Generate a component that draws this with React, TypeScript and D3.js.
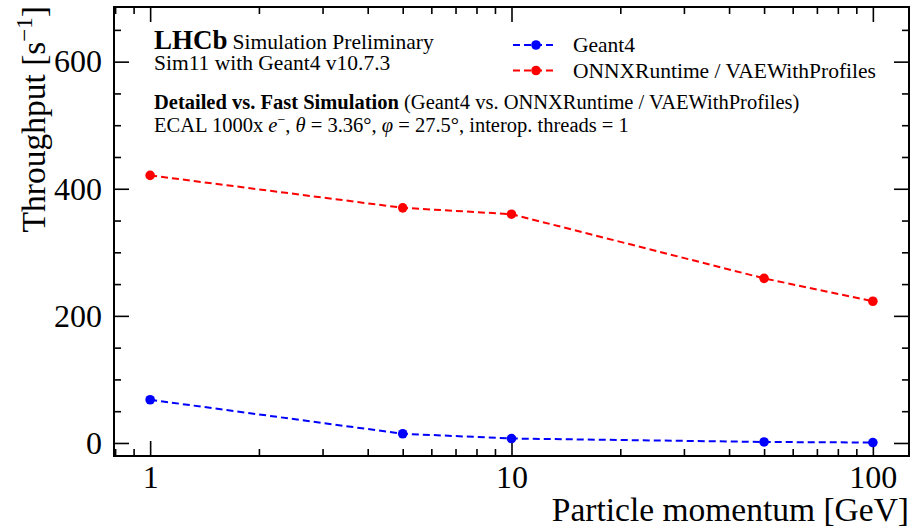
import React, { useEffect, useRef } from 'react';
import * as d3 from 'd3';

// particle momentum in GeV (log axis)
const momentum = [1, 5, 10, 50, 100];
// throughput [1/s]
const geant4 = [68, 14.5, 7, 1.6, 0.7];
const onnx = [421, 370, 360, 259, 223];
const xTicks = [1, 10, 100];
const yTicks = [0, 200, 400, 600];
const seriesNames = ['Geant4', 'ONNXRuntime / VAEWithProfiles'];
const seriesColors = ['#0000ff', '#ff0000'];

const FONT = 'Liberation Serif, Times New Roman, serif';

function Chart() {
  const ref = useRef<SVGSVGElement>(null);

  useEffect(() => {
    document.body.style.margin = '0';
    const width = 920;
    const height = 529;
    const margin = { top: 7, right: 11, bottom: 73, left: 114 };

    const svg = d3.select(ref.current);
    svg.selectAll('*').remove();
    svg.attr('width', width).attr('height', height);
    const root = svg.append('g').attr('font-family', FONT).attr('fill', '#000');

    const x = d3.scaleLog()
      .domain([Math.pow(10, -0.1), Math.pow(10, 2.1)])
      .range([margin.left, width - margin.right]);

    const y = d3.scaleLinear()
      .domain([-20.5, 686])
      .range([height - margin.bottom, margin.top]);

    const [x0, x1] = x.range();
    const [y0, y1] = y.range();

    // minor ticks
    const xMinor: number[] = [];
    for (let e = -1; e <= 2; e++) {
      for (let m = 1; m <= 9; m++) {
        const v = m * Math.pow(10, e);
        if (v >= x.domain()[0] && v <= x.domain()[1] && !xTicks.includes(v)) xMinor.push(v);
      }
    }
    const yMinor = d3.range(0, 700, 50).filter(v => v % 200 !== 0 && v <= 686);

    const styleAxis = (g: any) => {
      g.attr('font-family', FONT);
      g.select('.domain').remove();
      g.selectAll('.tick line').attr('stroke', '#000').attr('stroke-width', 1.6);
      g.selectAll('.tick text').attr('font-size', 32).attr('font-family', FONT).attr('fill', '#000');
    };

    // bottom
    root.append('g')
      .attr('transform', `translate(0,${y0})`)
      .call(d3.axisBottom(x).tickValues(xTicks).tickFormat(d3.format('d') as any).tickSize(-15).tickPadding(9))
      .call(styleAxis);
    root.append('g')
      .attr('transform', `translate(0,${y0})`)
      .call(d3.axisBottom(x).tickValues(xMinor).tickFormat(() => '').tickSize(-7))
      .call(styleAxis);
    // top
    root.append('g')
      .attr('transform', `translate(0,${y1})`)
      .call(d3.axisTop(x).tickValues(xTicks).tickFormat(() => '').tickSize(-15))
      .call(styleAxis);
    root.append('g')
      .attr('transform', `translate(0,${y1})`)
      .call(d3.axisTop(x).tickValues(xMinor).tickFormat(() => '').tickSize(-7))
      .call(styleAxis);
    // left
    root.append('g')
      .attr('transform', `translate(${x0},0)`)
      .call(d3.axisLeft(y).tickValues(yTicks).tickSize(-15).tickPadding(12))
      .call(styleAxis);
    root.append('g')
      .attr('transform', `translate(${x0},0)`)
      .call(d3.axisLeft(y).tickValues(yMinor).tickFormat(() => '').tickSize(-7))
      .call(styleAxis);
    // right
    root.append('g')
      .attr('transform', `translate(${x1},0)`)
      .call(d3.axisRight(y).tickValues(yTicks).tickFormat(() => '').tickSize(-15))
      .call(styleAxis);
    root.append('g')
      .attr('transform', `translate(${x1},0)`)
      .call(d3.axisRight(y).tickValues(yMinor).tickFormat(() => '').tickSize(-7))
      .call(styleAxis);

    root.append('rect')
      .attr('x', x0).attr('y', y1)
      .attr('width', x1 - x0).attr('height', y0 - y1)
      .attr('fill', 'none').attr('stroke', '#000').attr('stroke-width', 2);

    // series
    const line = d3.line<[number, number]>()
      .x(d => x(d[0]))
      .y(d => y(d[1]));

    [geant4, onnx].forEach((vals, i) => {
      const pts = momentum.map((m, j) => [m, vals[j]] as [number, number]);
      root.append('path')
        .datum(pts)
        .attr('fill', 'none')
        .attr('stroke', seriesColors[i])
        .attr('stroke-width', 2)
        .attr('stroke-dasharray', '7,4')
        .attr('d', line);
      root.append('g').selectAll('circle')
        .data(pts)
        .enter()
        .append('circle')
        .attr('cx', d => x(d[0]))
        .attr('cy', d => y(d[1]))
        .attr('r', 4.8)
        .attr('fill', seriesColors[i]);
    });

    // legend
    const leg = root.append('g');
    seriesNames.forEach((name, i) => {
      const ly = 45 + i * 25.5;
      leg.append('line')
        .attr('x1', 513).attr('x2', 557).attr('y1', ly).attr('y2', ly)
        .attr('stroke', seriesColors[i]).attr('stroke-width', 2)
        .attr('stroke-dasharray', '7,4');
      leg.append('circle').attr('cx', 536).attr('cy', ly).attr('r', 4.8).attr('fill', seriesColors[i]);
      leg.append('text')
        .attr('x', 573).attr('y', ly + 7)
        .attr('font-family', FONT)
        .attr('font-size', 21.5)
        .text(name);
    });

    // annotations
    const t1 = root.append('text').attr('x', 154).attr('y', 49).attr('font-family', FONT);
    t1.append('tspan').attr('font-weight', 'bold').attr('font-size', 27).text('LHCb');
    t1.append('tspan').attr('font-size', 21.5).attr('dx', 5).text('Simulation Preliminary');

    root.append('text').attr('x', 154).attr('y', 70).attr('font-size', 21.5).attr('font-family', FONT)
      .text('Sim11 with Geant4 v10.7.3');

    const t3 = root.append('text').attr('x', 154).attr('y', 109).attr('font-size', 20.5).attr('font-family', FONT);
    t3.append('tspan').attr('font-weight', 'bold').text('Detailed vs. Fast Simulation');
    t3.append('tspan').text(' (Geant4 vs. ONNXRuntime / VAEWithProfiles)');

    const t4 = root.append('text').attr('x', 154).attr('y', 132).attr('font-size', 20.5).attr('font-family', FONT);
    t4.append('tspan').text('ECAL 1000x ');
    t4.append('tspan').attr('font-style', 'italic').text('e');
    t4.append('tspan').attr('font-size', 14).attr('dy', -8).text('\u2212');
    t4.append('tspan').attr('dy', 8).text(', ');
    t4.append('tspan').attr('font-style', 'italic').text('\u03b8');
    t4.append('tspan').text(' = 3.36\u00b0, ');
    t4.append('tspan').attr('font-style', 'italic').text('\u03c6');
    t4.append('tspan').text(' = 27.5\u00b0, interop. threads = 1');

    // axis labels
    root.append('text')
      .attr('x', x1).attr('y', 521)
      .attr('text-anchor', 'end')
      .attr('font-family', FONT)
      .attr('font-size', 33.5)
      .text('Particle momentum [GeV]');

    const yl = root.append('text')
      .attr('transform', `translate(45,${y1 - 1}) rotate(-90)`)
      .attr('text-anchor', 'end')
      .attr('font-family', FONT)
      .attr('font-size', 33.5);
    yl.append('tspan').text('Throughput [s');
    yl.append('tspan').attr('font-size', 23).attr('dy', -13).text('\u22121');
    yl.append('tspan').attr('dy', 13).text(']');
  }, []);

  return <svg ref={ref} style={{ display: 'block' }}></svg>;
}

export default function App() {
  return <Chart />;
}
